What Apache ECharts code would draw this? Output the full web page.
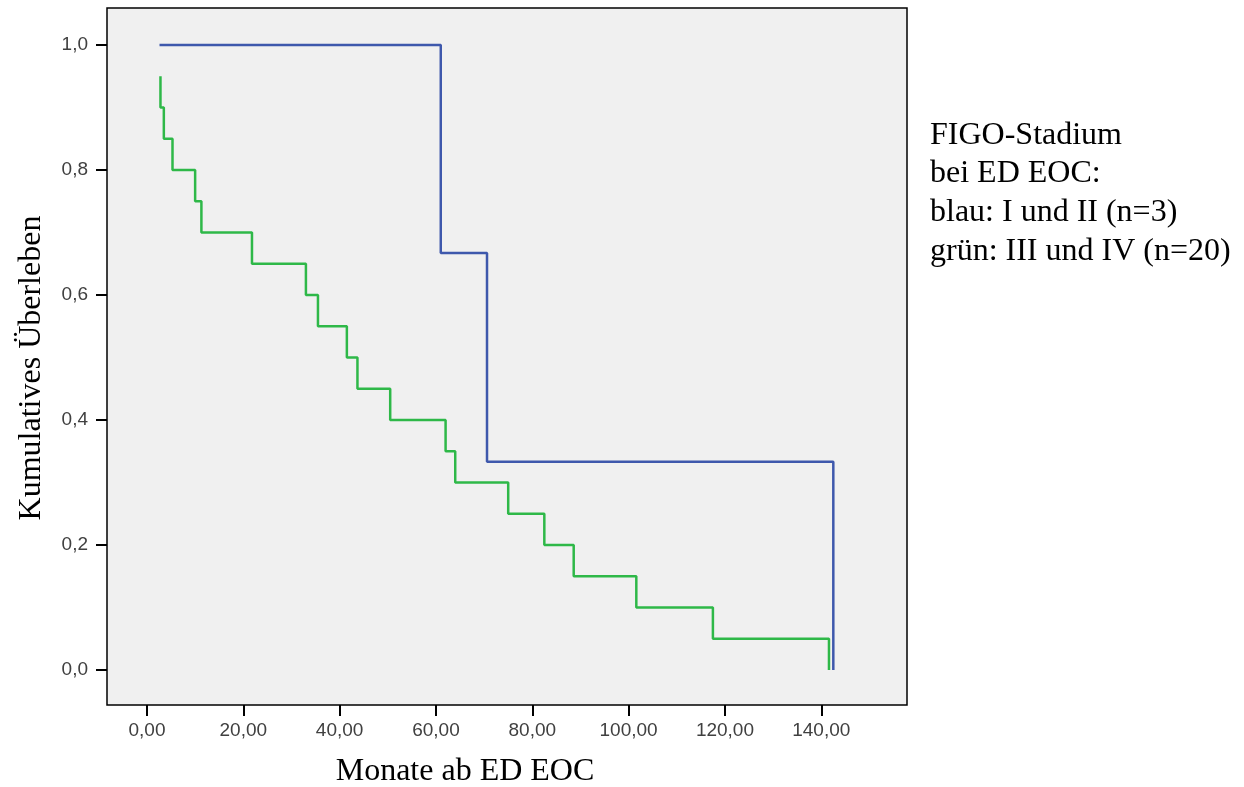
<!DOCTYPE html>
<html><head><meta charset="utf-8">
<script src="https://cdn.jsdelivr.net/npm/echarts@6/dist/echarts.min.js"></script>
<style>html,body{margin:0;padding:0;background:#fff}#c{width:1244px;height:787px}</style>
</head><body><div id="c"></div>
<script>
// Kaplan-Meier step data (time in months, cumulative survival)
const blueTimes = [2.6, 61.0, 70.6, 142.5];
const blueSurv  = [1.0, 0.667, 0.333, 0.0];
const greenTimes = [2.8, 2.8, 3.5, 5.3, 10.0, 11.3, 21.8, 33.0, 35.5, 41.5, 43.7, 50.5, 62.0, 64.0, 75.0, 82.5, 88.6, 101.6, 117.5, 141.6];
const greenSurv  = [0.95, 0.90, 0.85, 0.80, 0.75, 0.70, 0.65, 0.60, 0.55, 0.50, 0.45, 0.40, 0.35, 0.30, 0.25, 0.20, 0.15, 0.10, 0.05, 0.00];
const xTicks = [0, 20, 40, 60, 80, 100, 120, 140];
const yTicks = [0, 0.2, 0.4, 0.6, 0.8, 1.0];
const xTitle = 'Monate ab ED EOC';
const yTitle = 'Kumulatives Überleben';
const noteLines = ['FIGO-Stadium', 'bei ED EOC:', 'blau: I und II (n=3)', 'grün: III und IV (n=20)'];

const zip = (a, b) => a.map((v, i) => [v, b[i]]);
const chart = echarts.init(document.getElementById('c'), null, {renderer: 'canvas'});
const fmt = v => v.toFixed(2).replace('.', ',');
const fmtY = v => v.toFixed(1).replace('.', ',');
chart.setOption({
  animation: false,
  backgroundColor: '#ffffff',
  grid: {left: 107, top: 8, right: 337, bottom: 82, show: true, backgroundColor: '#f0f0f0', borderColor: '#000', borderWidth: 1.5},
  xAxis: {
    type: 'value', min: -8.3, max: 157.8,
    axisLine: {show: false, onZero: false},
    splitLine: {show: false},
    axisTick: {show: true, length: 11, customValues: xTicks, lineStyle: {color: '#000', width: 2}},
    axisLabel: {customValues: xTicks, formatter: fmt, margin: 16, color: '#404040', fontSize: 19, fontFamily: 'Liberation Sans, Arial, sans-serif'}
  },
  yAxis: {
    type: 'value', min: -0.056, max: 1.059,
    axisLine: {show: false, onZero: false},
    splitLine: {show: false},
    axisTick: {show: true, length: 11, customValues: yTicks, lineStyle: {color: '#000', width: 2}},
    axisLabel: {customValues: yTicks, formatter: fmtY, margin: 19, color: '#404040', fontSize: 19, fontFamily: 'Liberation Sans, Arial, sans-serif'}
  },
  series: [
    {type: 'line', step: 'end', data: zip(blueTimes, blueSurv), symbol: 'none', lineStyle: {color: '#3e58ac', width: 2.5}},
    {type: 'line', step: 'end', data: zip(greenTimes, greenSurv), symbol: 'none', lineStyle: {color: '#2eb848', width: 2.5}}
  ],
  graphic: [
    {type: 'text', x: 465, y: 772, style: {text: xTitle, font: '32px "Liberation Serif", "Times New Roman", serif', fill: '#000', textAlign: 'center', textVerticalAlign: 'middle'}},
    {type: 'text', x: 32, y: 368, rotation: Math.PI / 2, style: {text: yTitle, font: '32px "Liberation Serif", "Times New Roman", serif', fill: '#000', textAlign: 'center', textVerticalAlign: 'middle'}},
    {type: 'text', left: 930, top: 116, style: {text: noteLines.join('\n'), font: '32px "Liberation Serif", "Times New Roman", serif', lineHeight: 38.6, fill: '#000'}}
  ]
});
</script></body></html>
